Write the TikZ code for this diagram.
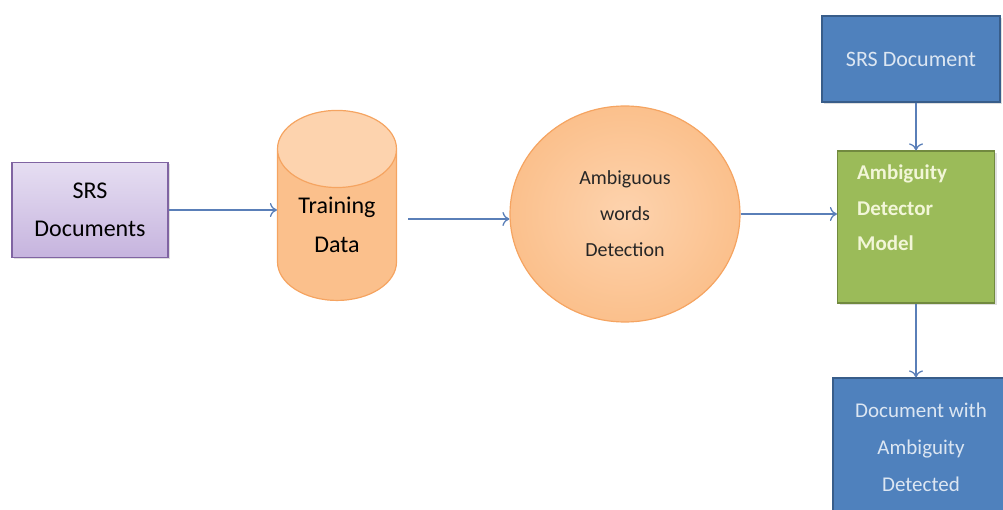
\documentclass[tikz,border=0pt]{standalone}
\usepackage{fontspec}
\setmainfont{Carlito}
\usetikzlibrary{shapes.geometric,shadows,positioning,arrows.meta}

\definecolor{arrowblue}{HTML}{5A7FB8}
\definecolor{purptop}{HTML}{E6DEF2}
\definecolor{purpbottom}{HTML}{C6B4DE}
\definecolor{purpborder}{HTML}{8064A2}
\definecolor{orangeborder}{HTML}{F5A461}
\definecolor{orangebody}{HTML}{FBC08C}
\definecolor{orangeend}{HTML}{FDD3AE}
\definecolor{bluefill}{HTML}{4F81BD}
\definecolor{blueborder}{HTML}{385D8A}
\definecolor{greenfill}{HTML}{9BBB59}
\definecolor{greenborder}{HTML}{71893F}
\definecolor{paletext}{HTML}{DCE6F2}
\definecolor{paleyellow}{HTML}{F2F6D8}

\begin{document}
\begin{tikzpicture}
[x=1pt,y=-1pt,
block/.style={rectangle,draw,line width=1.2pt,inner sep=0pt,align=center,
  drop shadow={opacity=0.25,shadow xshift=2pt,shadow yshift=-2pt}},
edge/.style={-{To[length=7pt,width=14pt]},line width=1.3pt,draw=arrowblue}]
\useasboundingbox (0,0) rectangle (1003,510);
\node[block,draw=purpborder,top color=purptop,bottom color=purpbottom,
  minimum width=156pt,minimum height=95pt,
  font=\fontsize{24}{38}\selectfont] (srs) at (90,210) {SRS\\Documents};
\node[cylinder,shape border rotate=90,aspect=1,draw=orangeborder,line width=1.2pt,
  cylinder uses custom fill,cylinder body fill=orangebody,cylinder end fill=orangeend,
  minimum width=119pt,minimum height=190pt,inner sep=0pt,align=center,
  font=\fontsize{24}{39}\selectfont] (train) at (337,225) {Training\\Data};
\node[ellipse,draw=orangeborder,line width=1.2pt,inner color=orangeend,outer color=orangebody,
  minimum width=230pt,minimum height=216pt,inner sep=0pt,align=center,text=black!85,
  font=\fontsize{20}{36}\selectfont] (amb) at (625,214) {Ambiguous\\words\\Detection};
\node[block,draw=blueborder,fill=bluefill,text=paletext,
  minimum width=178pt,minimum height=86pt,
  font=\fontsize{22}{30}\selectfont] (srsdoc) at (911,59) {SRS Document};
\node[block,draw=greenborder,fill=greenfill,
  minimum width=157pt,minimum height=152pt] (model) at (916,227) {};
\node[text=paleyellow,align=left,anchor=north west,inner sep=0pt,
  font=\bfseries\fontsize{21}{35.5}\selectfont] (modeltext) at (857,165)
  {Ambiguity\\Detector\\Model};
\node[block,draw=blueborder,fill=bluefill,text=paletext,
  minimum width=176pt,minimum height=138pt,
  font=\fontsize{21}{37}\selectfont] (out) at (921,447) {Document with\\Ambiguity\\Detected};
\draw[edge] (srs.east) -- (srs.east -| train.west);
\draw[edge,shorten <=11pt] ([yshift=6pt]train.east) -- ([yshift=6pt]train.east -| amb.west);
\draw[edge] (amb.east) -- (amb.east -| model.west);
\draw[edge] (model.north |- srsdoc.south) -- (model.north);
\draw[edge] (model.south) -- (model.south |- out.north);
\end{tikzpicture}
\end{document}
